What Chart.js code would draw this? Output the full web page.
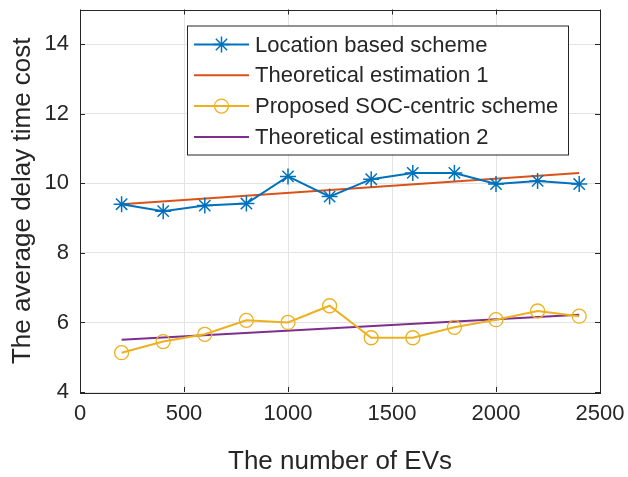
<!DOCTYPE html>
<html>
<head>
<meta charset="utf-8">
<script src="https://cdn.jsdelivr.net/npm/chart.js@4/dist/chart.umd.min.js"></script>
<style>
  html, body { margin: 0; padding: 0; background: #fff; }
  #wrap { width: 628px; height: 477px; }
</style>
</head>
<body>
<div id="wrap"><canvas id="delayChart" width="628" height="477"></canvas></div>
<script>
// values
const evCounts = [200, 400, 600, 800, 1000, 1200, 1400, 1600, 1800, 2000, 2200, 2400];
const locationBased = [9.4, 9.2, 9.36, 9.42, 10.2, 9.62, 10.12, 10.3, 10.3, 9.98, 10.07, 9.98];
const socCentric = [5.13, 5.45, 5.66, 6.06, 6.0, 6.48, 5.56, 5.56, 5.86, 6.08, 6.33, 6.18];
const estimateX = [200, 2400];
const estimate1 = [9.4, 10.3];
const estimate2 = [5.5, 6.22];
const seriesNames = ['Location based scheme', 'Theoretical estimation 1', 'Proposed SOC-centric scheme', 'Theoretical estimation 2'];
const xTicks = [0, 500, 1000, 1500, 2000, 2500];
const yTicks = [4, 6, 8, 10, 12, 14];

const colors = ['#0072BD', '#D95319', '#EDB120', '#7E2F8E'];
const textColor = '#262626';
const fontFamily = '"Liberation Sans", Arial, Helvetica, sans-serif';

const pairs = (xs, ys) => xs.map((x, i) => ({ x: x, y: ys[i] }));

// box round the plot plus small inward ticks, like the original figure
const frame = {
    id: 'frame',
    afterDatasetsDraw(chart) {
        const { ctx, chartArea: a, scales } = chart;
        ctx.save();
        ctx.strokeStyle = textColor;
        ctx.lineWidth = 1;
        ctx.beginPath();
        xTicks.forEach(t => {
            const px = Math.round(scales.x.getPixelForValue(t)) + 0.5;
            ctx.moveTo(px, a.bottom); ctx.lineTo(px, a.bottom - 5);
            ctx.moveTo(px, a.top); ctx.lineTo(px, a.top + 5);
        });
        yTicks.forEach(t => {
            const py = Math.round(scales.y.getPixelForValue(t)) + 0.5;
            ctx.moveTo(a.left, py); ctx.lineTo(a.left + 5, py);
            ctx.moveTo(a.right, py); ctx.lineTo(a.right - 5, py);
        });
        ctx.stroke();
        ctx.strokeRect(Math.round(a.left) + 0.5, Math.round(a.top) + 0.5,
            Math.round(a.right - a.left), Math.round(a.bottom - a.top));
        ctx.restore();
    }
};

// legend box drawn inside the plot area
const insideLegend = {
    id: 'insideLegend',
    afterDraw(chart) {
        const { ctx, chartArea: a } = chart;
        const left = a.left + 107, top = a.top + 16, w = 381, h = 129;
        ctx.save();
        ctx.fillStyle = '#fff';
        ctx.fillRect(left, top, w, h);
        ctx.strokeStyle = textColor;
        ctx.lineWidth = 1;
        ctx.strokeRect(left + 0.5, top + 0.5, w, h);
        ctx.font = '22px ' + fontFamily;
        ctx.textBaseline = 'middle';
        chart.data.datasets.forEach((ds, i) => {
            const cy = top + 19 + i * 30.8;
            ctx.strokeStyle = ds.borderColor;
            ctx.lineWidth = 2;
            ctx.beginPath();
            ctx.moveTo(left + 7, cy);
            ctx.lineTo(left + 62, cy);
            ctx.stroke();
            if (ds.pointRadius > 0) {
                ctx.fillStyle = 'rgba(0,0,0,0)';
                ctx.strokeStyle = ds.pointBorderColor;
                ctx.lineWidth = ds.pointBorderWidth;
                Chart.helpers.drawPoint(ctx, {
                    pointStyle: ds.pointStyle,
                    radius: ds.pointRadius,
                    borderWidth: ds.pointBorderWidth
                }, left + 34.5, cy);
            }
            ctx.fillStyle = textColor;
            ctx.fillText(ds.label, left + 68, cy + 1);
        });
        ctx.restore();
    }
};

new Chart(document.getElementById('delayChart'), {
    type: 'line',
    data: {
        datasets: [{
            label: seriesNames[0],
            data: pairs(evCounts, locationBased),
            borderColor: colors[0],
            backgroundColor: colors[0],
            borderWidth: 2,
            pointStyle: 'star',
            pointRadius: 8,
            pointBorderWidth: 1.5,
            pointBorderColor: colors[0]
        }, {
            label: seriesNames[1],
            data: pairs(estimateX, estimate1),
            borderColor: colors[1],
            borderWidth: 2,
            pointRadius: 0
        }, {
            label: seriesNames[2],
            data: pairs(evCounts, socCentric),
            borderColor: colors[2],
            backgroundColor: 'rgba(0,0,0,0)',
            borderWidth: 2,
            pointStyle: 'circle',
            pointRadius: 7,
            pointBorderWidth: 1.3,
            pointBorderColor: colors[2],
            pointBackgroundColor: 'rgba(0,0,0,0)'
        }, {
            label: seriesNames[3],
            data: pairs(estimateX, estimate2),
            borderColor: colors[3],
            borderWidth: 2,
            pointRadius: 0
        }]
    },
    options: {
        responsive: false,
        animation: false,
        layout: { padding: { top: 7, right: 28, left: 0, bottom: 0 } },
        plugins: {
            legend: { display: false },
            tooltip: { enabled: false }
        },
        scales: {
            x: {
                type: 'linear',
                min: 0,
                max: 2500,
                afterFit: s => { s.height = 85; s.paddingLeft = 0; s.paddingRight = 0; },
                afterBuildTicks: s => { s.ticks = xTicks.map(v => ({ value: v })); },
                ticks: {
                    color: textColor,
                    font: { family: fontFamily, size: 22 },
                    padding: 9,
                    maxRotation: 0,
                    callback: v => String(v)
                },
                grid: { color: '#e3e3e3', drawTicks: false },
                border: { display: false },
                title: {
                    display: true,
                    text: 'The number of EVs',
                    color: textColor,
                    font: { family: fontFamily, size: 26 },
                    padding: { top: 0, bottom: 0 }
                }
            },
            y: {
                min: 4,
                max: 15,
                afterFit: s => { s.width = 80; s.paddingTop = 0; s.paddingBottom = 0; },
                afterBuildTicks: s => { s.ticks = yTicks.map(v => ({ value: v })); },
                ticks: {
                    color: textColor,
                    font: { family: fontFamily, size: 22 },
                    padding: 11,
                    callback: v => String(v)
                },
                grid: { color: '#e3e3e3', drawTicks: false },
                border: { display: false },
                title: {
                    display: true,
                    text: 'The average delay time cost',
                    color: textColor,
                    font: { family: fontFamily, size: 26 },
                    padding: { top: 7, bottom: 0 }
                }
            }
        }
    },
    plugins: [frame, insideLegend]
});
</script>
</body>
</html>
